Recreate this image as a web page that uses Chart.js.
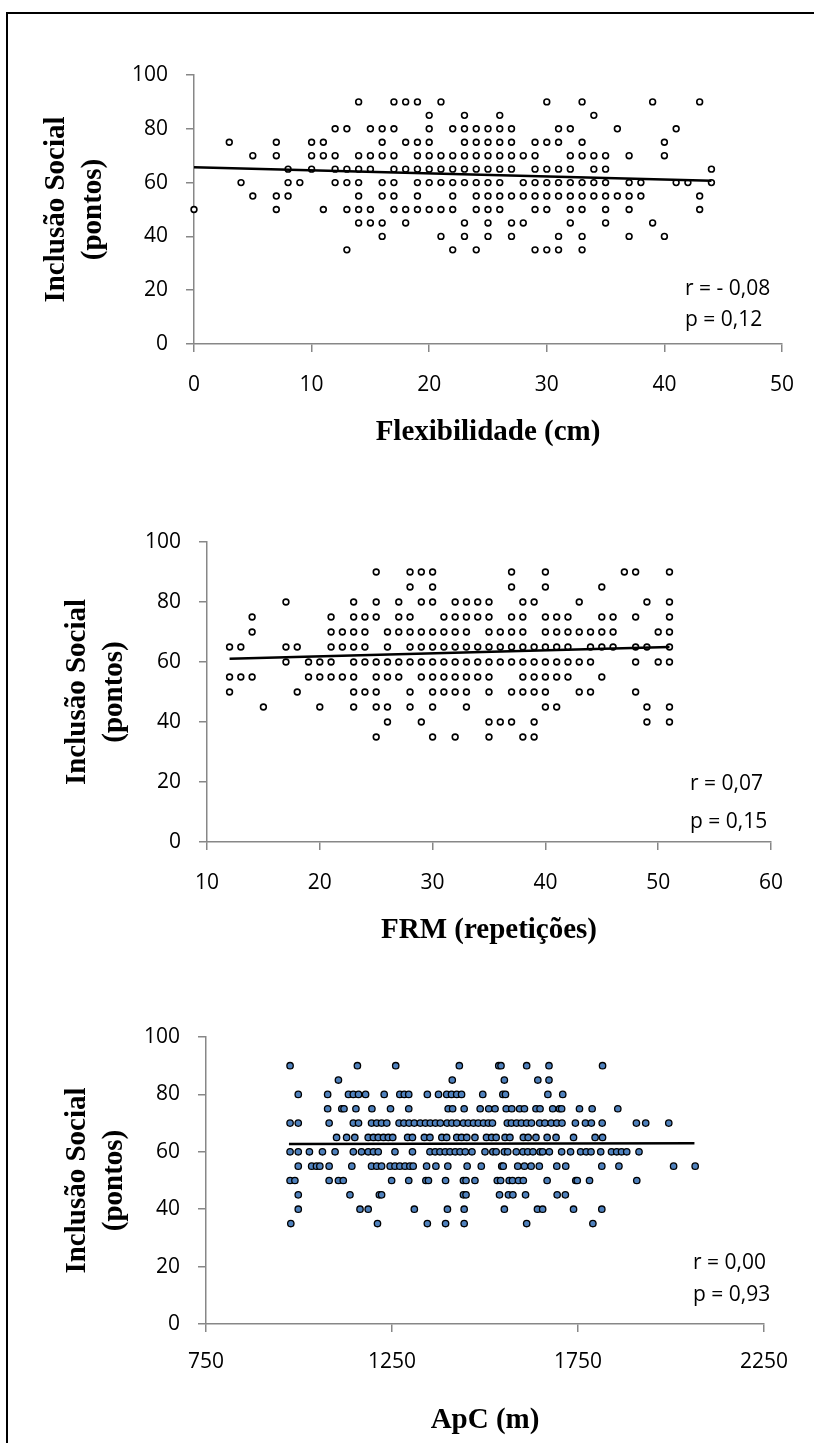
<!DOCTYPE html>
<html><head><meta charset="utf-8">
<script src="https://cdn.jsdelivr.net/npm/chart.js@4.4.1/dist/chart.umd.min.js"></script>
<style>
html,body{margin:0;padding:0;background:#fff;}
body{width:814px;height:1443px;position:relative;overflow:hidden;}
#frame{position:absolute;left:6px;top:12px;width:830px;height:1500px;border-left:2px solid #000;border-top:2px solid #000;box-sizing:border-box;}
canvas{position:absolute;left:0;}
</style></head><body>
<div id="frame"></div>
<canvas id="c1" width="814" height="480" style="top:0;width:814px;height:480px"></canvas>
<canvas id="c2" width="814" height="480" style="top:480px;width:814px;height:480px"></canvas>
<canvas id="c3" width="814" height="483" style="top:960px;width:814px;height:483px"></canvas>
<script>
// ---------- DATA ----------
const levels = [90,85,80,75,70,65,60,55,50,45,40,35];

// Chart 1: Flexibilidade (cm) vs Inclusão Social
const flexX = [
 [14,17,18,19,21,30,33,39,43],
 [20,23,26,34],
 [12,13,15,16,17,20,22,23,24,25,26,27,31,32,36,41],
 [3,7,10,11,16,18,19,20,23,24,25,26,27,29,30,31,33,40],
 [5,7,10,11,12,14,15,16,17,19,20,21,22,23,24,25,26,27,28,29,32,33,34,35,37,40],
 [8,10,12,13,14,15,17,18,19,20,21,22,23,24,25,26,27,29,30,31,32,34,35,44],
 [4,8,9,12,13,14,16,17,19,20,21,22,23,24,25,26,28,29,30,31,32,33,34,35,37,38,41,42,44],
 [5,7,8,14,16,17,19,22,24,25,26,27,28,29,30,31,32,33,34,35,36,37,38,43],
 [0,7,11,13,14,15,17,18,19,20,21,22,24,25,26,29,30,32,33,35,37,43],
 [14,15,16,18,23,25,27,28,32,35,39],
 [16,21,23,25,27,31,33,37,40],
 [13,22,24,29,30,31,33]
];
const flexTrendX = [0, 44];
const flexTrendY = [65.7, 60.7];
const flexStats = ["r = - 0,08", "p = 0,12"];

// Chart 2: FRM (repetições)
const frmX = [
 [25,28,29,30,37,40,47,48,51],
 [28,30,37,40,45],
 [17,23,25,27,29,30,32,33,34,35,38,39,43,49,51],
 [14,21,23,24,25,27,28,31,32,33,34,35,37,38,40,41,42,45,46,48,51],
 [14,21,22,23,24,26,27,28,29,30,31,32,33,35,36,37,38,40,41,42,43,44,45,46,50,51],
 [12,13,17,18,21,22,23,24,26,28,29,30,31,32,33,34,35,36,37,38,39,40,41,42,44,45,46,48,49,51],
 [17,19,20,21,23,24,25,26,27,28,29,30,31,32,33,34,35,36,37,38,39,40,41,42,43,44,48,50,51],
 [12,13,14,19,20,21,22,23,25,26,27,29,30,31,32,33,34,35,38,39,40,41,42,45],
 [12,18,23,24,25,28,30,31,32,33,35,37,38,39,40,43,44,48],
 [15,20,23,25,26,28,30,33,40,41,49,51],
 [26,29,35,36,37,39,49,51],
 [25,30,32,35,38,39]
];
const frmTrendX = [12, 51];
const frmTrendY = [61.1, 65.0];
const frmStats = ["r = 0,07", "p = 0,15"];

// Chart 3: ApC (m)
const apcX = [
 [976,1157,1260,1431,1537,1543,1612,1672,1816],
 [1106,1412,1552,1642,1672],
 [998,1077,1133,1146,1160,1179,1229,1271,1283,1295,1345,1375,1397,1410,1424,1437,1494,1548,1555,1669,1709],
 [1077,1115,1121,1153,1196,1246,1295,1401,1413,1444,1487,1510,1527,1557,1572,1593,1606,1637,1648,1682,1700,1706,1754,1788,1857],
 [976,998,1081,1146,1160,1195,1209,1222,1236,1269,1282,1296,1310,1326,1340,1353,1367,1380,1398,1411,1424,1442,1455,1469,1482,1496,1509,1520,1560,1571,1585,1598,1612,1625,1647,1661,1678,1693,1707,1743,1770,1786,1815,1907,1932,1994],
 [1101,1128,1150,1186,1200,1213,1227,1240,1252,1292,1305,1337,1352,1384,1397,1424,1437,1451,1473,1504,1518,1530,1554,1567,1603,1616,1637,1667,1691,1738,1796,1816],
 [976,998,1028,1063,1097,1146,1168,1186,1200,1213,1258,1305,1352,1366,1379,1393,1406,1420,1433,1447,1465,1500,1521,1530,1552,1561,1584,1602,1615,1629,1648,1655,1673,1706,1730,1757,1772,1785,1811,1840,1854,1867,1881,1914],
 [998,1034,1047,1056,1081,1142,1195,1209,1222,1245,1258,1271,1285,1298,1307,1343,1368,1400,1452,1490,1545,1549,1588,1606,1624,1646,1693,1717,1814,1860,2007,2065],
 [976,989,1081,1106,1119,1249,1295,1341,1348,1394,1442,1449,1473,1533,1542,1565,1574,1590,1603,1667,1744,1748,1781,1908],
 [998,1137,1216,1222,1442,1449,1539,1563,1575,1609,1694,1716],
 [998,1164,1186,1310,1399,1444,1552,1641,1655,1738,1814],
 [978,1211,1345,1394,1444,1612,1790]
];
const apcTrendX = [973, 2063];
const apcTrendY = [62.7, 63.0];
const apcStats = ["r = 0,00", "p = 0,93"];

const yTitle = ["Inclusão Social", "(pontos)"];

// ---------- HELPERS ----------
function toPoints(xsByLevel) {
  const pts = [];
  xsByLevel.forEach((xs, i) => xs.forEach(x => pts.push({x: x, y: levels[i]})));
  return pts;
}
function toLine(xs, ys) { return xs.map((x, i) => ({x: x, y: ys[i]})); }

const statsPlugin = {
  id: 'stats',
  afterDraw(chart, args, opts) {
    const ctx = chart.ctx;
    ctx.save();
    ctx.font = '21px "Open Sans"';
    ctx.fillStyle = '#000';
    ctx.textBaseline = 'middle';
    ctx.textAlign = 'left';
    opts.lines.forEach((t, i) => ctx.fillText(t, opts.x, opts.y[i]));
    ctx.restore();
  }
};

const AXIS = '#878787';
const tickFont = {family: '"Open Sans"', size: 21};
const titleFont = {family: '"Liberation Serif"', size: 29, weight: 'bold', lineHeight: 1.28};

function makeChart(id, c) {
  return new Chart(document.getElementById(id), {
    type: 'scatter',
    data: {datasets: [
      {data: toLine(c.tx, c.ty), showLine: true, borderColor: '#000', borderWidth: 2.6,
       pointRadius: 0, order: 0, clip: false},
      {data: toPoints(c.xs), pointRadius: c.r, pointBorderWidth: c.bw,
       pointBackgroundColor: c.fill, pointBorderColor: '#000', order: 1, clip: false}
    ]},
    options: {
      responsive: false, animation: false, events: [],
      layout: {padding: c.pad},
      plugins: {legend: {display: false}, tooltip: {enabled: false},
        stats: {lines: c.stats, x: c.sx, y: c.sy}},
      scales: {
        x: {type: 'linear', position: 'bottom', min: c.xmin, max: c.xmax,
          ticks: {stepSize: c.xstep, font: tickFont, color: '#000', padding: c.xpad,
                  maxRotation: 0, autoSkip: false, callback: v => String(v)},
          grid: {drawOnChartArea: false, drawTicks: true, tickLength: 8, color: AXIS, lineWidth: 1.5},
          border: {display: true, color: AXIS, width: 1.5},
          title: {display: true, text: c.xtitle, font: titleFont, color: '#000', padding: {top: 0, bottom: 0}},
          afterFit: s => { s.height = c.xh; }
        },
        y: {type: 'linear', position: 'left', min: 0, max: 100,
          ticks: {stepSize: 20, font: tickFont, color: '#000', padding: 18, callback: v => String(v)},
          grid: {drawOnChartArea: false, drawTicks: true, tickLength: 8, color: AXIS, lineWidth: 1.5},
          border: {display: true, color: AXIS, width: 1.5},
          title: {display: true, text: yTitle, font: titleFont, color: '#000', padding: {top: c.ytp, bottom: 0}},
          afterFit: s => { s.width = c.yw; }
        }
      }
    },
    plugins: [statsPlugin]
  });
}

function build() {
  makeChart('c1', {xs: flexX, tx: flexTrendX, ty: flexTrendY, stats: flexStats,
    r: 2.9, bw: 1.6, fill: '#ffffff',
    pad: {top: 75, bottom: 29, left: 0, right: 30}, yw: 194, xh: 107, ytp: 38, xpad: 20,
    xmin: 0, xmax: 50, xstep: 10, xtitle: 'Flexibilidade (cm)', sx: 685, sy: [289, 320]});
  makeChart('c2', {xs: frmX, tx: frmTrendX, ty: frmTrendY, stats: frmStats,
    r: 2.9, bw: 1.6, fill: '#ffffff',
    pad: {top: 62, bottom: 11, left: 0, right: 43}, yw: 207, xh: 107, ytp: 59, xpad: 20,
    xmin: 10, xmax: 60, xstep: 10, xtitle: 'FRM (repetições)', sx: 690, sy: [304, 342]});
  makeChart('c3', {xs: apcX, tx: apcTrendX, ty: apcTrendY, stats: apcStats,
    r: 3.2, bw: 1.3, fill: '#4f81bd',
    pad: {top: 77, bottom: 4, left: 0, right: 50}, yw: 206, xh: 115, ytp: 59, xpad: 17,
    xmin: 750, xmax: 2250, xstep: 500, xtitle: 'ApC (m)', sx: 693, sy: [303, 335]});
}

Promise.all([
  document.fonts.load('21px "Open Sans"'),
  document.fonts.load('bold 29px "Liberation Serif"')
]).then(build, build);
</script>
</body></html>
